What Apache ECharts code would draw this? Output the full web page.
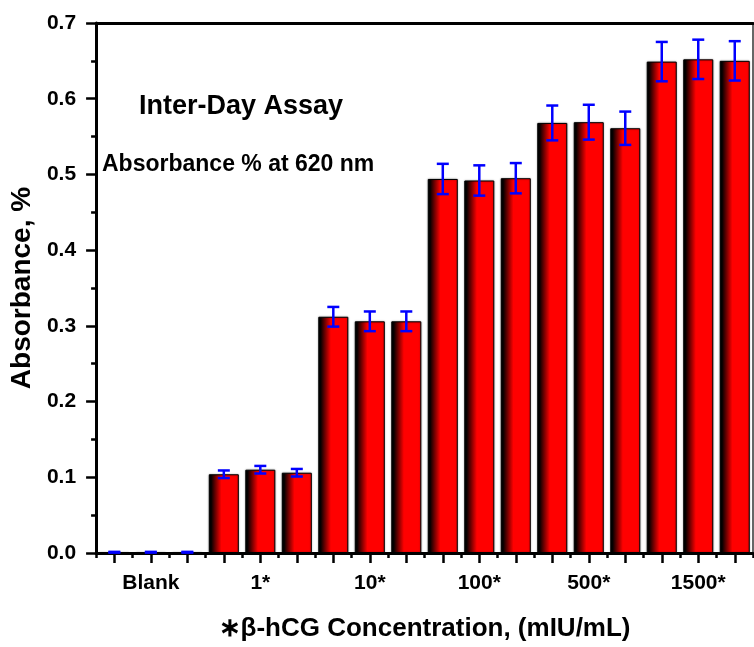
<!DOCTYPE html>
<html>
<head>
    <meta charset="utf-8">
    <title>Inter-Day Assay</title>
    <script src="https://cdn.jsdelivr.net/npm/echarts@6/dist/echarts.min.js"></script>
    <style>
        html, body { margin: 0; padding: 0; background: #fff; }
        #main { width: 754px; height: 647px; }
    </style>
</head>
<body>
<div id="main"></div>
<script type="text/javascript">
    // data
    var groups = ['Blank', '1*', '10*', '100*', '500*', '1500*'];
    var replicates = 3;
    var absorbance = [0.001, 0.001, 0.001,
                      0.104, 0.110, 0.106,
                      0.312, 0.306, 0.306,
                      0.494, 0.492, 0.495,
                      0.568, 0.569, 0.561,
                      0.649, 0.652, 0.650];
    var errors = [0.0005, 0.0005, 0.0005,
                  0.005, 0.005, 0.005,
                  0.013, 0.013, 0.013,
                  0.020, 0.020, 0.020,
                  0.023, 0.023, 0.022,
                  0.026, 0.026, 0.026];
    var yTicks = ['0.0', '0.1', '0.2', '0.3', '0.4', '0.5', '0.6', '0.7'];

    var font = '"Liberation Sans", Arial, sans-serif';

    // one category per bar, label only under the middle bar of each group
    var categories = [];
    for (var g = 0; g < groups.length; g++) {
        for (var r = 0; r < replicates; r++) {
            categories.push(groups[g] + '#' + r);
        }
    }
    var errData = absorbance.map(function (v, i) { return [i, v, errors[i]]; });

    var barColor = new echarts.graphic.LinearGradient(0, 0, 1, 0, [
        {offset: 0, color: '#000000'},
        {offset: 0.08, color: '#060000'},
        {offset: 0.42, color: '#ff0000'},
        {offset: 1, color: '#ff0000'}
    ]);

    var myChart = echarts.init(document.getElementById('main'));
    var option = {
        animation: false,
        grid: {left: 95, right: 1, top: 23, bottom: 90},
        xAxis: [{
            type: 'category',
            data: categories,
            position: 'bottom',
            axisLine: {show: true, lineStyle: {color: '#000', width: 3}},
            axisTick: {show: true, alignWithLabel: true, interval: 0, length: 10, lineStyle: {color: '#000', width: 2.5}},
            axisLabel: {
                interval: 0, margin: 20, color: '#000', fontSize: 21, fontWeight: 'bold', fontFamily: font,
                formatter: function (val, idx) { return idx % replicates === 1 ? groups[Math.floor(idx / replicates)] : ''; }
            },
            name: '\u2217\u03b2-hCG Concentration, (mIU/mL)',
            nameLocation: 'middle',
            nameGap: 63,
            nameTextStyle: {color: '#000', fontSize: 26, fontWeight: 'bold', fontFamily: font},
            splitLine: {show: false}
        }, {
            // minor ticks between bars
            type: 'category',
            data: categories,
            position: 'bottom',
            axisLine: {show: false},
            axisTick: {show: true, interval: 0, length: 5, lineStyle: {color: '#000', width: 2.5}},
            axisLabel: {show: false},
            splitLine: {show: false}
        }, {
            // top frame
            type: 'category',
            data: categories,
            position: 'top',
            axisLine: {show: true, lineStyle: {color: '#000', width: 3}},
            axisTick: {show: false},
            axisLabel: {show: false},
            splitLine: {show: false}
        }],
        yAxis: [{
            type: 'value',
            min: 0,
            max: 0.7,
            interval: 0.1,
            axisLine: {show: true, lineStyle: {color: '#000', width: 3}},
            axisTick: {show: true, length: 10, lineStyle: {color: '#000', width: 2.5}},
            minorTick: {show: true, splitNumber: 2, length: 5, lineStyle: {color: '#000', width: 2.5}},
            axisLabel: {
                margin: 20, color: '#000', fontSize: 21, fontWeight: 'bold', fontFamily: font,
                formatter: function (v) { return yTicks[Math.round(v * 10)]; }
            },
            splitLine: {show: false},
            name: 'Absorbance, %',
            nameLocation: 'middle',
            nameGap: 54,
            nameTextStyle: {color: '#000', fontSize: 28, fontWeight: 'bold', fontFamily: font}
        }, {
            // right frame
            type: 'value',
            min: 0,
            max: 0.7,
            position: 'right',
            axisLine: {show: true, lineStyle: {color: '#333', width: 1.5}},
            axisTick: {show: false},
            axisLabel: {show: false},
            splitLine: {show: false}
        }],
        graphic: [{
            type: 'text',
            left: 139,
            top: 93,
            style: {text: 'Inter-Day Assay', fill: '#000', font: 'bold 27px ' + font}
        }, {
            type: 'text',
            left: 102,
            top: 153,
            style: {text: 'Absorbance % at 620 nm', fill: '#000', font: 'bold 23px ' + font}
        }],
        series: [{
            type: 'bar',
            data: absorbance,
            barWidth: 30,
            itemStyle: {
                color: barColor,
                borderColor: '#000',
                borderWidth: 1,
                shadowColor: 'rgba(0,0,0,0.35)',
                shadowBlur: 2
            }
        }, {
            type: 'custom',
            data: errData,
            encode: {x: 0, y: 1},
            z: 5,
            renderItem: function (params, api) {
                var x = api.value(0);
                var y = api.value(1);
                var e = api.value(2);
                var hi = api.coord([x, y + e]);
                var lo = api.coord([x, y - e]);
                var hw = 6;
                var st = {stroke: '#0000ff', lineWidth: 2.5};
                return {
                    type: 'group',
                    children: [
                        {type: 'line', shape: {x1: hi[0], y1: hi[1], x2: lo[0], y2: lo[1]}, style: st},
                        {type: 'line', shape: {x1: hi[0] - hw, y1: hi[1], x2: hi[0] + hw, y2: hi[1]}, style: st},
                        {type: 'line', shape: {x1: lo[0] - hw, y1: lo[1], x2: lo[0] + hw, y2: lo[1]}, style: st}
                    ]
                };
            }
        }]
    };
    myChart.setOption(option);
</script>
</body>
</html>
